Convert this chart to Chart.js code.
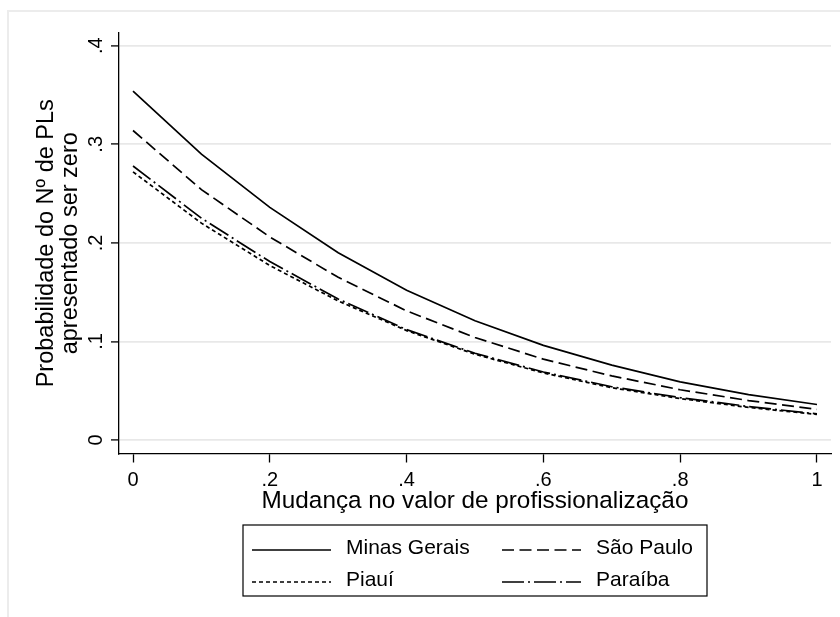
<!DOCTYPE html>
<html>
<head>
<meta charset="utf-8">
<script src="https://cdn.jsdelivr.net/npm/chart.js@4.4.1/dist/chart.umd.min.js"></script>
<style>
  html, body { margin: 0; padding: 0; background: #fff; }
  canvas { display: block; }
</style>
</head>
<body>
<canvas id="probChart" width="840" height="617"></canvas>
<script>
// values, x = 0 .. 1 step .1
const xValues = [0, .1, .2, .3, .4, .5, .6, .7, .8, .9, 1];
const minasGerais = [0.354, 0.290, 0.236, 0.190, 0.152, 0.121, 0.096, 0.076, 0.059, 0.046, 0.036];
const saoPaulo = [0.314, 0.254, 0.206, 0.165, 0.131, 0.104, 0.082, 0.065, 0.051, 0.040, 0.031];
const piaui = [0.272, 0.220, 0.177, 0.141, 0.111, 0.087, 0.068, 0.053, 0.042, 0.033, 0.026];
const paraiba = [0.278, 0.225, 0.181, 0.143, 0.112, 0.088, 0.069, 0.054, 0.043, 0.034, 0.0265];
const seriesNames = ['Minas Gerais', 'São Paulo', 'Piauí', 'Paraíba'];
const xTicks = [0, .2, .4, .6, .8, 1];
const yTicks = [0, .1, .2, .3, .4];

const FONT = "'Liberation Sans', Arial, sans-serif";
Chart.defaults.font.family = FONT;
Chart.defaults.color = '#000';

const toPoints = (ys) => xValues.map((x, i) => ({ x: x, y: ys[i] }));
const stripZero = (v) => String(v).replace(/^0\./, '.');

// light grey frame of the graph region
const stataFrame = {
    id: 'stataFrame',
    beforeDraw(chart) {
        const ctx = chart.ctx;
        ctx.save();
        ctx.fillStyle = '#ececec';
        ctx.fillRect(7, 10, chart.width - 7, 2);
        ctx.fillRect(7, 10, 2, chart.height - 10);
        ctx.restore();
    }
};

// boxed two-column legend under the x title
const stataLegend = {
    id: 'stataLegend',
    afterDraw(chart) {
        const { ctx, chartArea } = chart;
        const cx = (chartArea.left + chartArea.right) / 2;
        const boxW = 464, boxTop = 525, boxH = 71;
        const left = cx - boxW / 2;
        ctx.save();
        ctx.strokeStyle = '#000';
        ctx.lineWidth = 1.2;
        ctx.strokeRect(left, boxTop, boxW, boxH);
        ctx.font = '21px ' + FONT;
        ctx.fillStyle = '#000';
        ctx.textBaseline = 'middle';
        chart.data.datasets.forEach((ds, i) => {
            const col = i % 2, row = Math.floor(i / 2);
            const x0 = left + (col ? 259 : 9);
            const y = boxTop + (row ? 55.5 : 23.5);
            ctx.setLineDash(ds.borderDash || []);
            ctx.lineWidth = ds.borderWidth;
            ctx.beginPath();
            ctx.moveTo(x0, y + 1.5);
            ctx.lineTo(x0 + 79, y + 1.5);
            ctx.stroke();
            ctx.setLineDash([]);
            ctx.fillText(ds.label, x0 + 94, y);
        });
        ctx.restore();
    }
};

const ctx = document.getElementById('probChart').getContext('2d');
new Chart(ctx, {
    type: 'line',
    data: {
        datasets: [
            { label: seriesNames[0], data: toPoints(minasGerais), borderDash: [] },
            { label: seriesNames[1], data: toPoints(saoPaulo), borderDash: [12, 5.5] },
            { label: seriesNames[2], data: toPoints(piaui), borderDash: [4, 3] },
            { label: seriesNames[3], data: toPoints(paraiba), borderDash: [22, 4, 2, 4] }
        ].map(ds => Object.assign(ds, {
            borderColor: '#000',
            borderWidth: 1.7,
            pointRadius: 0,
            tension: 0,
            fill: false
        }))
    },
    options: {
        responsive: false,
        animation: false,
        layout: { padding: { left: 0, top: 33, right: 9, bottom: 93.5 } },
        plugins: {
            legend: { display: false },
            tooltip: { enabled: false }
        },
        scales: {
            x: {
                type: 'linear',
                min: -0.0205,
                max: 1.0205,
                afterBuildTicks: (axis) => { axis.ticks = xTicks.map(v => ({ value: v })); },
                afterFit: (scale) => { scale.height = 70; },
                border: { color: '#000', width: 1.3 },
                grid: { drawOnChartArea: false, drawTicks: true, tickLength: 9, tickColor: '#000', tickWidth: 1.3 },
                ticks: { font: { size: 20 }, padding: 6, maxRotation: 0, callback: stripZero },
                title: {
                    display: true,
                    text: 'Mudança no valor de profissionalização',
                    font: { size: 24.3 },
                    padding: { top: 0, bottom: 8 }
                }
            },
            y: {
                min: -0.0137,
                max: 0.4129,
                afterBuildTicks: (axis) => { axis.ticks = yTicks.map(v => ({ value: v })); },
                afterFit: (scale) => { scale.width = 119; },
                border: { color: '#000', width: 1.3 },
                grid: { color: '#e8e8e8', lineWidth: 1.8, tickLength: 8, tickColor: '#000', tickWidth: 1.3 },
                ticks: { font: { size: 20 }, padding: 6.4, minRotation: 90, maxRotation: 90, crossAlign: 'center', callback: stripZero },
                title: {
                    display: true,
                    text: ['Probabilidade do Nº de PLs', 'apresentado ser zero'],
                    font: { size: 23.5, lineHeight: 1.03 },
                    padding: { top: 34, bottom: 0 }
                }
            }
        }
    },
    plugins: [stataFrame, stataLegend]
});
</script>
</body>
</html>
